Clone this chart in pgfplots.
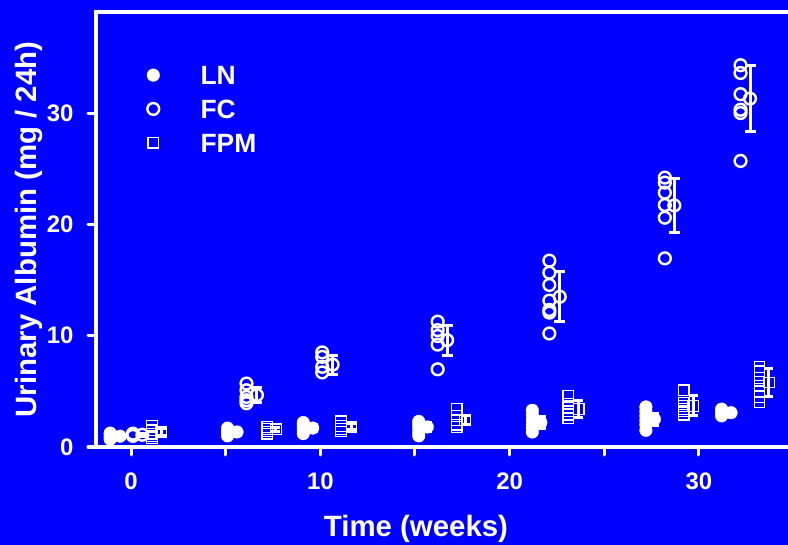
\documentclass[border=0pt]{standalone}
\usepackage{fontspec}
\setmainfont{Liberation Sans}
\usepackage{pgfplots}
\usepackage{pgfplotstable}
\pgfplotsset{compat=1.18}
\definecolor{bgblue}{RGB}{0,0,255}

% individual animals: LN (lean), FC, FPM
\pgfplotstableread{
x y
-1.1 0.7
-1.1 0.9
-1.1 1.1
-1.1 1.25
5.1 1.0
5.1 1.2
5.1 1.45
5.1 1.7
9.1 1.2
9.1 1.5
9.1 1.8
9.1 2.0
9.1 2.2
15.2 1.0
15.2 1.3
15.2 1.7
15.2 2.0
15.2 2.3
21.2 1.35
21.2 1.7
21.2 2.0
21.2 2.4
21.2 2.9
21.2 3.3
27.2 1.5
27.2 2.0
27.2 2.4
27.2 2.8
27.2 3.2
27.2 3.6
31.2 2.8
31.2 3.0
31.2 3.2
31.2 3.4
}\lnpts

\pgfplotstableread{
x y
0.1 1.0
0.1 1.1
0.1 1.2
6.1 3.93
6.1 4.2
6.1 4.5
6.1 5.1
6.1 5.7
10.1 6.7
10.1 7.2
10.1 8.1
10.1 8.5
16.2 6.98
16.2 9.2
16.2 9.97
16.2 10.5
16.2 11.26
22.1 10.2
22.1 12.07
22.1 12.31
22.1 13.15
22.1 14.56
22.1 15.66
22.1 16.74
28.2 16.95
28.2 20.6
28.2 21.74
28.2 22.85
28.2 23.75
28.2 24.2
32.2 25.7
32.2 30.0
32.2 30.3
32.2 31.7
32.2 33.6
32.2 34.3
}\fcpts

\pgfplotstableread{
x y
1.1 0.8
1.1 1.0
1.1 1.2
1.1 1.5
1.1 1.9
7.2 1.2
7.2 1.4
7.2 1.6
7.2 1.8
11.1 1.4
11.1 1.6
11.1 1.9
11.1 2.3
17.2 1.8
17.2 2.0
17.2 2.4
17.2 2.8
17.2 3.4
23.1 2.6
23.1 2.9
23.1 3.2
23.1 3.5
23.1 3.9
23.1 4.6
29.2 2.9
29.2 3.2
29.2 3.4
29.2 3.7
29.2 4.0
29.2 5.1
33.2 4.0
33.2 4.5
33.2 5.0
33.2 5.5
33.2 6.2
33.2 6.8
33.2 7.2
}\fpmpts

% group means with SD
\pgfplotstableread{
x y e
-0.58 0.97 0.15
5.6 1.35 0.2
9.6 1.7 0.3
15.65 1.8 0.4
21.65 2.2 0.5
27.65 2.5 0.55
31.7 3.08 0.15
}\lnmean

\pgfplotstableread{
x y e
0.6 1.1 0.15
6.65 4.67 0.7
10.65 7.4 0.85
16.7 9.6 1.35
22.65 13.5 2.25
28.7 21.7 2.45
32.7 31.3 3.0
}\fcmean

\pgfplotstableread{
x y e
1.6 1.32 0.3
7.65 1.59 0.2
11.65 1.83 0.3
17.65 2.43 0.4
23.65 3.41 0.8
29.7 3.7 0.9
33.7 5.8 1.27
}\fpmmean

\begin{document}
\begin{tikzpicture}
\useasboundingbox (0,0) rectangle (788bp,545bp);
\fill[bgblue] (0,0) rectangle (788bp,545bp);
\clip (0,0) rectangle (788bp,545bp);
\begin{axis}[
  at={(96bp,98bp)}, anchor=south west,
  scale only axis, width=707bp, height=435bp,
  xmin=-1.85, xmax=35.5, ymin=0, ymax=39.08,
  clip=false,
  axis line style={white, line width=3.5bp},
  tick pos=left, tick align=outside,
  major tick length=8bp,
  major tick style={white, line width=3bp, line cap=round},
  xtick={0,5,10,15,20,25,30},
  xticklabels={0,,10,,20,,30},
  ytick={0,10,20,30},
  /pgf/number format/assume math mode=true,
  ticklabel style={font=\fontsize{24}{28}\selectfont\bfseries, text=white},
  xticklabel style={yshift=-14bp},
  yticklabel style={xshift=-11bp},
  label style={font=\fontsize{29.5}{34}\selectfont\bfseries, text=white},
  xlabel={Time (weeks)},
  ylabel={Urinary Albumin (mg / 24h)},
  xlabel style={at={(axis description cs:0.4526,-0.2046)}, anchor=base},
  ylabel style={at={(axis description cs:-0.0835,0.5)}, anchor=base},
  lnmark/.style={only marks, mark=*, mark size=6.3bp,
    mark options={draw=white, fill=white, line width=0.4bp}},
  fcmark/.style={only marks, mark=o, mark size=5.9bp,
    mark options={draw=white, line width=2.4bp}},
  fpmmark/.style={only marks, mark=square, mark size=5.3bp,
    mark options={draw=white, line width=1.2bp}},
  sdbars/.style={
    error bars/y dir=both, error bars/y explicit,
    error bars/error bar style={white, line width=3bp},
    error bars/error mark options={rotate=90, white, mark size=#1, line width=3bp}},
  legend style={at={(axis description cs:0.0721,0.874)}, anchor=north west,
    draw=none, fill=none, inner sep=0bp, outer sep=0bp,
    row sep=14bp, column sep=41bp,
    font=\fontsize{26.5}{30}\selectfont\bfseries, text=white,
    nodes={inner sep=0bp}},
  legend cell align=left,
  legend image code/.code={\draw[#1] plot coordinates {(0bp,1.5bp)};},
]
\addplot[lnmark] table[x=x, y=y] {\lnpts};
\addlegendentry{LN}
\addplot[fcmark] table[x=x, y=y] {\fcpts};
\addlegendentry{FC}
\addplot[fpmmark] table[x=x, y=y] {\fpmpts};
\addlegendentry{FPM}

\addplot[forget plot, lnmark, sdbars=5bp] table[x=x, y=y, y error=e] {\lnmean};
\addplot[forget plot, fcmark, sdbars=5.5bp] table[x=x, y=y, y error=e] {\fcmean};
\addplot[forget plot, fpmmark, sdbars=4.5bp] table[x=x, y=y, y error=e] {\fpmmean};
\end{axis}
\end{tikzpicture}
\end{document}
